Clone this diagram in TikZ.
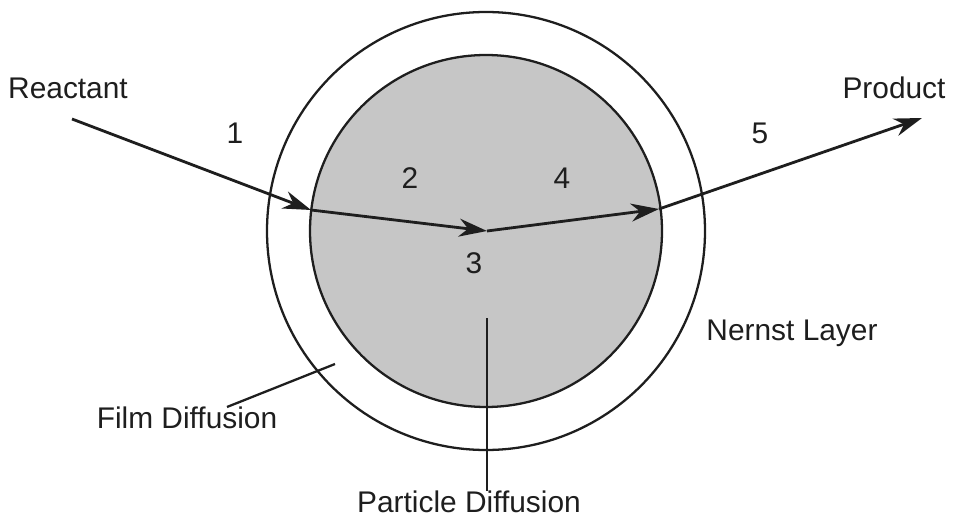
\documentclass[tikz,border=0pt]{standalone}
\usepackage{fontspec}
\setmainfont{Liberation Sans}
\usetikzlibrary{arrows.meta,positioning}
\definecolor{ink}{HTML}{1E1E1E}
\definecolor{grain}{HTML}{C6C6C6}
\tikzset{
  flow/.style={-{Stealth[length=5.6mm, width=3.6mm, inset=1.8mm]}, line width=1.6pt, ink},
  lead/.style={line width=1.3pt, ink},
  shell/.style={draw=ink, line width=1.3pt},
  bead/.style={draw=ink, fill=grain, line width=1.3pt},
  txt/.style={font=\fontsize{17}{20}\selectfont, text=ink, inner sep=0pt},
  num/.style={font=\fontsize{17}{20}\selectfont, text=ink, inner sep=0pt},
}
\begin{document}
\begin{tikzpicture}[x=0.2mm, y=-0.2mm]
  \useasboundingbox (0,0) rectangle (971,519);

  % ===================== particle: Nernst layer and bead =====================
  \coordinate (ctr) at (486,231);
  \draw[shell] (ctr) circle[radius=219];
  \draw[bead] (ctr) circle[radius=176];

  % ===================== labels =====================
  \node[txt] (reac) at (68,88) {Reactant};
  \node[txt] (prod) at (894,88) {Product};
  \node[txt] (nern) at (792,333) {Nernst Layer};
  \node[txt] (film) at (187,418) {Film Diffusion};
  \node[txt] (part) at (469,502) {Particle Diffusion};
  \node[num] (n1) at (235,133) {1};
  \node[num] (n2) at (410,178) {2};
  \node[num] (n3) at (474,263) {3};
  \node[num] (n4) at (562,178) {4};
  \node[num] (n5) at (760,133) {5};

  % path points
  \coordinate (pA) at (72,119);
  \coordinate (pB) at (311,210);
  \coordinate (pC) at (487,231);
  \coordinate (pD) at (659,209);
  \coordinate (pE) at (922,118);
  \draw[flow] (pA) -- (pB);
  \draw[flow] (pB) -- (pC);
  \draw[flow] (pC) -- (pD);
  \draw[flow] (pD) -- (pE);

  % leaders
  \coordinate (ftip) at (335,364);
  \coordinate (fbase) at (227,407);
  \draw[lead] (fbase) -- (ftip);
  \coordinate (ptip) at (487,318);
  \draw[lead] (ptip) -- (ptip |- part.north);
\end{tikzpicture}
\end{document}
